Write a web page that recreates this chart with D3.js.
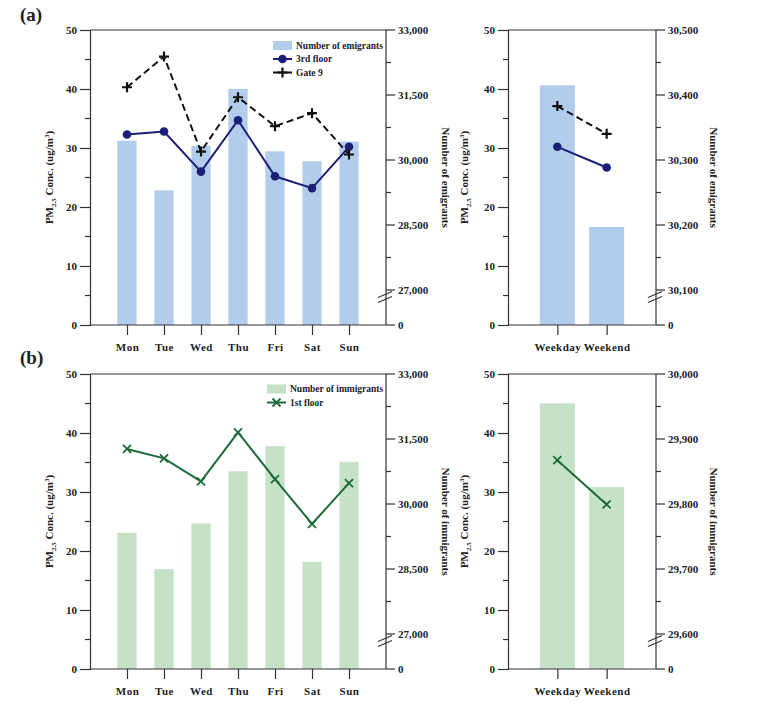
<!DOCTYPE html>
<html>
<head>
<meta charset="utf-8">
<script src="https://cdn.jsdelivr.net/npm/d3@7"></script>
<style>
  body { margin: 0; background: #fff; }
  svg { display: block; }
  text { font-family: "Liberation Serif", "Times New Roman", serif; font-weight: bold; fill: #222; }
</style>
</head>
<body>
<svg id="chart" width="776" height="714"></svg>
<script>
// ---------------- DATA ----------------
const days = ["Mon", "Tue", "Wed", "Thu", "Fri", "Sat", "Sun"];
const periods = ["Weekday", "Weekend"];

const emigrantsDaily = [30445, 29300, 30325, 31640, 30200, 29970, 30425];
const floor3Daily = [32.3, 32.8, 26.0, 34.7, 25.2, 23.2, 30.2];
const gate9Daily = [40.3, 45.5, 29.4, 38.6, 33.7, 35.9, 28.9];

const emigrantsPeriod = [30415, 30197];
const floor3Period = [30.2, 26.7];
const gate9Period = [37.1, 32.4];

const immigrantsDaily = [29337, 28496, 29553, 30756, 31334, 28666, 30972];
const floor1Daily = [37.3, 35.7, 31.8, 40.1, 32.2, 24.6, 31.5];

const immigrantsPeriod = [29955, 29826];
const floor1Period = [35.4, 27.9];

const pmTicks = [0, 10, 20, 30, 40, 50];
const rightTicksDailyA = [27000, 28500, 30000, 31500, 33000];
const rightTicksPeriodA = [30100, 30200, 30300, 30400, 30500];
const rightTicksDailyB = [27000, 28500, 30000, 31500, 33000];
const rightTicksPeriodB = [29600, 29700, 29800, 29900, 30000];

// ---------------- STYLE ----------------
const BLUE_BAR = "#b2cdec";
const GREEN_BAR = "#c6e2c6";
const NAVY = "#1b1f78";
const DKGREEN = "#1d6b3a";
const AXIS = "#333";

const svg = d3.select("#chart");
const H = 295;          // plot height
const BREAK_PX = 35;    // distance from 0 to first right tick

function pmTitle(sel) {
  sel.append("tspan").text("PM");
  sel.append("tspan").attr("font-size", "7px").attr("dy", 3).text("2.5");
  sel.append("tspan").attr("dy", -3).text(" Conc. (ug/m");
  sel.append("tspan").attr("font-size", "7px").attr("dy", -4).text("3");
  sel.append("tspan").attr("dy", 4).text(")");
}

function drawPanel(o) {
  const g = svg.append("g").attr("transform", `translate(${o.x},${o.y})`);
  const W = o.w;

  const x = d3.scalePoint().domain(o.cats).range([0, W]).padding(1);
  const yL = d3.scaleLinear().domain([0, 50]).range([H, 0]);
  const rt = o.rightTicks;
  const yR = d3.scaleLinear().domain([rt[0], rt[rt.length - 1]]).range([H - BREAK_PX, 0]);
  const barW = x.step() * o.barFrac;

  // bars
  g.selectAll("rect.bar").data(o.bars).join("rect")
    .attr("class", "bar")
    .attr("x", (d, i) => x(o.cats[i]) - barW / 2)
    .attr("y", d => yR(d))
    .attr("width", barW)
    .attr("height", d => H - yR(d))
    .attr("fill", o.barColor);

  // frame top
  g.append("line").attr("x1", 0).attr("x2", W).attr("y1", 0).attr("y2", 0)
    .attr("stroke", AXIS).attr("stroke-width", 1.2);

  // left axis
  const leftAxis = d3.axisLeft(yL).tickValues(pmTicks).tickSize(10).tickPadding(3).tickFormat(d3.format("d"));
  const gl = g.append("g").call(leftAxis);
  gl.select(".domain").attr("stroke", AXIS).attr("stroke-width", 1.2);
  gl.selectAll(".tick line").attr("stroke", AXIS).attr("stroke-width", 1.2);
  gl.selectAll(".tick text").attr("font-size", "11px").attr("font-family", "Liberation Serif").attr("font-weight", "bold").attr("fill", "#222");
  const minorL = d3.range(5, 50, 10);
  g.selectAll("line.minl").data(minorL).join("line").attr("class", "minl")
    .attr("x1", -5).attr("x2", 0).attr("y1", d => yL(d)).attr("y2", d => yL(d))
    .attr("stroke", AXIS).attr("stroke-width", 1.2);

  // right axis
  const gr = g.append("g").attr("transform", `translate(${W},0)`);
  gr.append("line").attr("x1", 0).attr("x2", 0).attr("y1", 0).attr("y2", H).attr("stroke", AXIS).attr("stroke-width", 1.2);
  const fmt = d3.format(",");
  const rTicks = rt.map(v => ({ y: yR(v), label: fmt(v) })).concat([{ y: H, label: "0" }]);
  gr.selectAll("line.rt").data(rTicks).join("line").attr("class", "rt")
    .attr("x1", 0).attr("x2", 9).attr("y1", d => d.y).attr("y2", d => d.y)
    .attr("stroke", AXIS).attr("stroke-width", 1.2);
  gr.selectAll("text.rt").data(rTicks).join("text").attr("class", "rt")
    .attr("x", 12).attr("y", d => d.y).attr("dy", "0.35em").attr("font-size", "11px").text(d => d.label);
  const minorR = d3.range(rt.length - 1).map(i => (rt[i] + rt[i + 1]) / 2);
  gr.selectAll("line.minr").data(minorR).join("line").attr("class", "minr")
    .attr("x1", 0).attr("x2", 5).attr("y1", d => yR(d)).attr("y2", d => yR(d))
    .attr("stroke", AXIS).attr("stroke-width", 1.2);
  // break marks
  const by = H - 28;
  [-2.5, 2.5].forEach(off => {
    gr.append("line").attr("x1", -8).attr("x2", 6).attr("y1", by + off + 3).attr("y2", by + off - 3)
      .attr("stroke", AXIS).attr("stroke-width", 1.2);
  });

  // bottom axis
  const bottomAxis = d3.axisBottom(x).tickSize(10).tickPadding(8);
  const gb = g.append("g").attr("transform", `translate(0,${H})`).call(bottomAxis);
  gb.select(".domain").attr("stroke", AXIS).attr("stroke-width", 1.2).attr("d", `M0,0H${W}`);
  gb.selectAll(".tick line").attr("stroke", AXIS).attr("stroke-width", 1.2);
  gb.selectAll(".tick text").attr("font-size", "11px").attr("font-family", "Liberation Serif").attr("font-weight", "bold").attr("fill", "#222").attr("letter-spacing", "0.5px");

  // lines
  o.lines.forEach(L => {
    const line = d3.line().x((d, i) => x(o.cats[i])).y(d => yL(d));
    g.append("path").datum(L.values).attr("d", line).attr("fill", "none")
      .attr("stroke", L.color).attr("stroke-width", 2).attr("stroke-dasharray", L.dash || null);
    const pts = g.selectAll(null).data(L.values).join("g")
      .attr("transform", (d, i) => `translate(${x(o.cats[i])},${yL(d)})`);
    drawMarker(pts, L.marker, L.color);
  });

  // axis titles
  g.append("text").attr("transform", `translate(${o.leftTitleX},${H / 2}) rotate(-90)`)
    .attr("text-anchor", "middle").attr("font-size", "11px").call(pmTitle);
  g.append("text").attr("transform", `translate(${W + o.rightTitleX},${H / 2}) rotate(90)`)
    .attr("text-anchor", "middle").attr("font-size", "11px").text(o.rightTitle);

  return { g, x, yL };
}

function drawMarker(sel, type, color) {
  if (type === "circle") {
    sel.append("circle").attr("r", 4.3).attr("fill", color);
  } else if (type === "plus") {
    sel.append("path").attr("d", "M-5,0H5M0,-5V5").attr("stroke", color).attr("stroke-width", 2.2);
  } else if (type === "x") {
    sel.append("path").attr("d", "M-4,-4L4,4M-4,4L4,-4").attr("stroke", color).attr("stroke-width", 1.8);
  }
}

// ---------------- PANELS ----------------
const pA1 = drawPanel({
  x: 90, y: 30, w: 296, cats: days, barFrac: 0.52, bars: emigrantsDaily, barColor: BLUE_BAR,
  rightTicks: rightTicksDailyA, rightTitle: "Number of emigrants", leftTitleX: -37, rightTitleX: 56,
  lines: [
    { values: floor3Daily, color: NAVY, marker: "circle" },
    { values: gate9Daily, color: "#111", marker: "plus", dash: "7,4" }
  ]
});
drawPanel({
  x: 508, y: 30, w: 148, cats: periods, barFrac: 0.71, bars: emigrantsPeriod, barColor: BLUE_BAR,
  rightTicks: rightTicksPeriodA, rightTitle: "Number of emigrants", leftTitleX: -40, rightTitleX: 54,
  lines: [
    { values: floor3Period, color: NAVY, marker: "circle" },
    { values: gate9Period, color: "#111", marker: "plus", dash: "7,4" }
  ]
});
const pB1 = drawPanel({
  x: 90, y: 374, w: 296, cats: days, barFrac: 0.52, bars: immigrantsDaily, barColor: GREEN_BAR,
  rightTicks: rightTicksDailyB, rightTitle: "Number of immigrants", leftTitleX: -37, rightTitleX: 56,
  lines: [
    { values: floor1Daily, color: DKGREEN, marker: "x" }
  ]
});
drawPanel({
  x: 508, y: 374, w: 148, cats: periods, barFrac: 0.71, bars: immigrantsPeriod, barColor: GREEN_BAR,
  rightTicks: rightTicksPeriodB, rightTitle: "Number of immigrants", leftTitleX: -40, rightTitleX: 54,
  lines: [
    { values: floor1Period, color: DKGREEN, marker: "x" }
  ]
});

// ---------------- PANEL LABELS ----------------
svg.append("text").attr("x", 20).attr("y", 21).attr("font-size", "19px").text("(a)");
svg.append("text").attr("x", 20).attr("y", 364).attr("font-size", "19px").text("(b)");

// ---------------- LEGENDS ----------------
function legend(g, x0, y0, items) {
  const lg = g.append("g").attr("transform", `translate(${x0},${y0})`);
  items.forEach((it, i) => {
    const row = lg.append("g").attr("transform", `translate(0,${i * 13.5})`);
    if (it.type === "bar") {
      row.append("rect").attr("x", 0).attr("y", -4.5).attr("width", 19).attr("height", 9).attr("fill", it.color);
    } else {
      row.append("line").attr("x1", 0).attr("x2", 19).attr("y1", 0).attr("y2", 0).attr("stroke", it.color).attr("stroke-width", 2);
      const m = row.append("g").attr("transform", "translate(9.5,0)");
      drawMarker(m, it.marker, it.color);
    }
    row.append("text").attr("x", 23).attr("y", 0).attr("dy", "0.35em").attr("font-size", "9.5px").text(it.label);
  });
}
legend(pA1.g, 183, 15.5, [
  { type: "bar", color: BLUE_BAR, label: "Number of emigrants" },
  { type: "line", color: NAVY, marker: "circle", label: "3rd floor" },
  { type: "line", color: "#111", marker: "plus", label: "Gate 9" }
]);
legend(pB1.g, 177, 15, [
  { type: "bar", color: GREEN_BAR, label: "Number of immigrants" },
  { type: "line", color: DKGREEN, marker: "x", label: "1st floor" }
]);
</script>
</body>
</html>
